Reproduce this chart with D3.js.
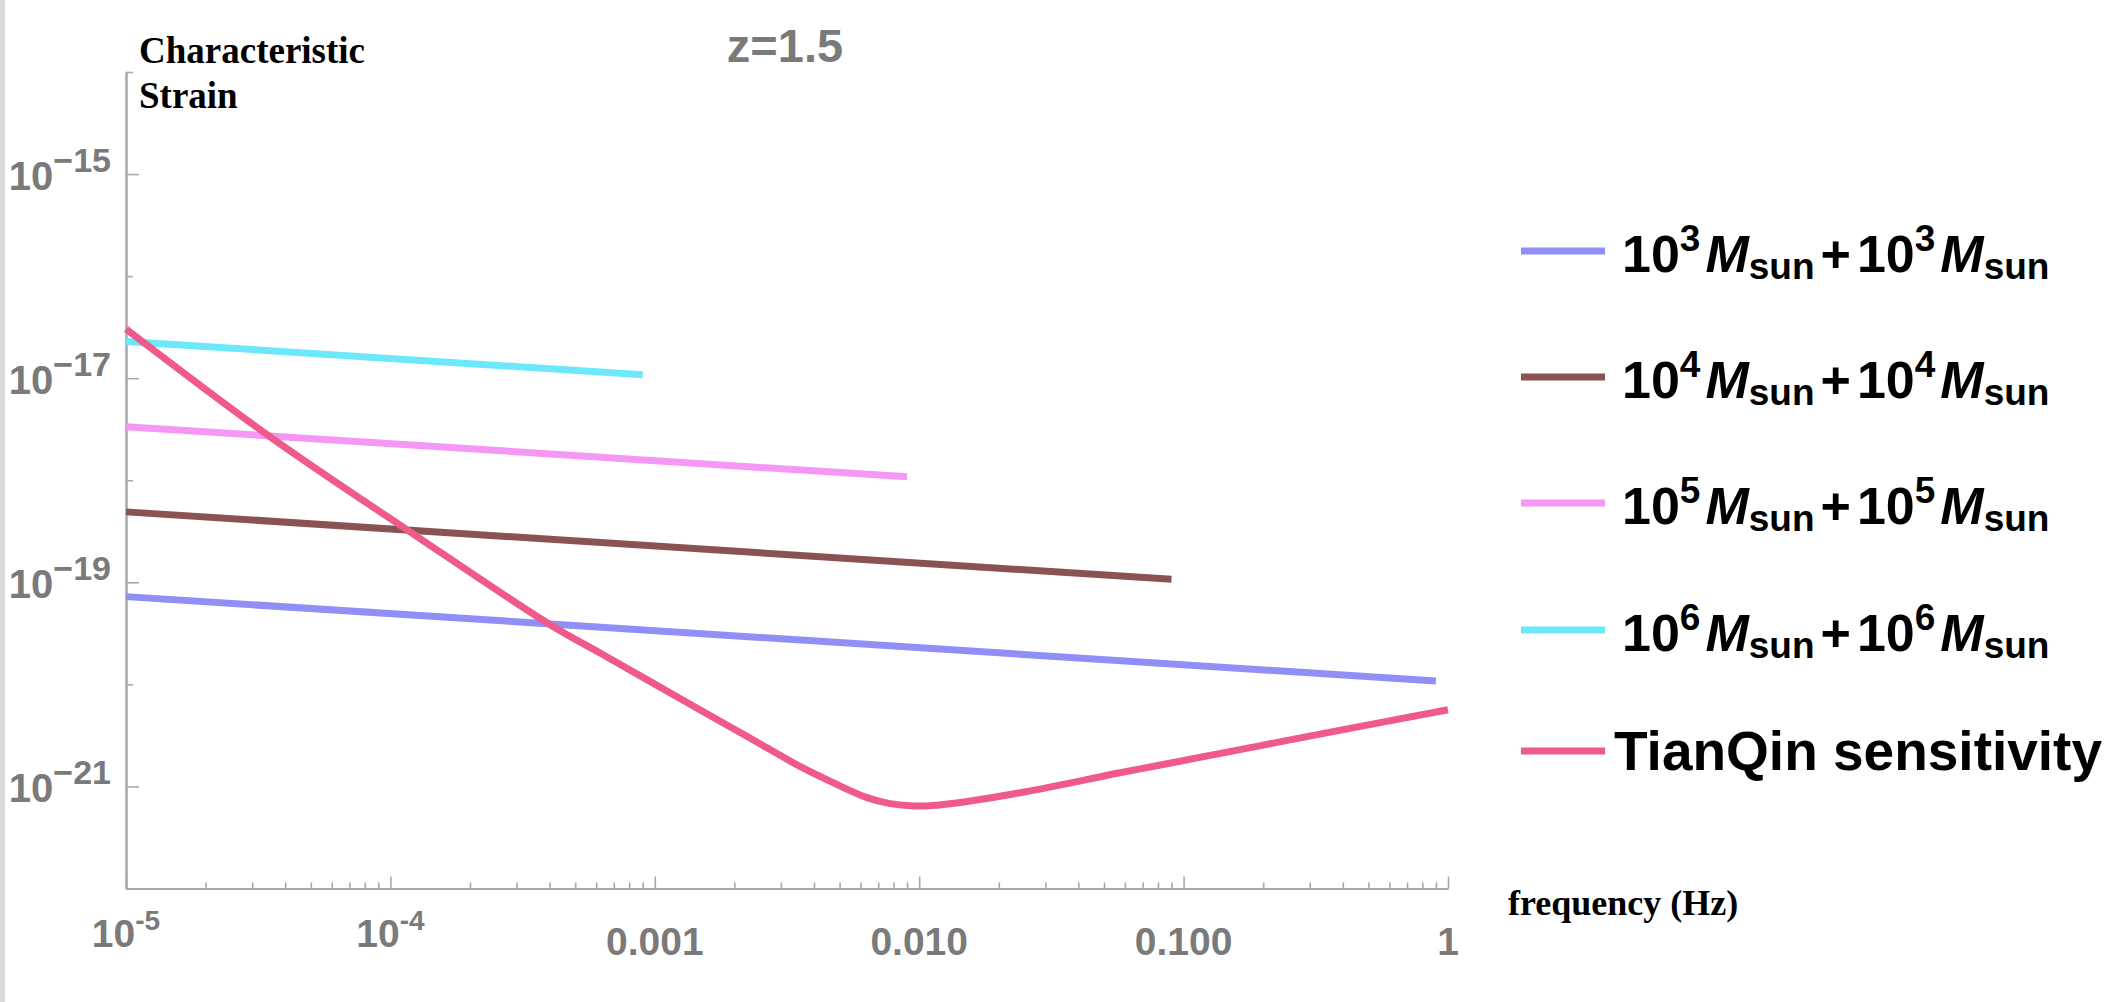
<!DOCTYPE html>
<html>
<head>
<meta charset="utf-8">
<script src="https://cdn.jsdelivr.net/npm/d3@7"></script>
<style>
  body { margin: 0; background: #fff; }
  svg { display: block; }
</style>
</head>
<body>
<div id="chart"></div>
<script>
// binary inspiral tracks: straight lines in log-log, start at 1e-5 Hz, stop near ISCO
const binaryNames = ["1e3", "1e4", "1e5", "1e6"];
const binaryExponents = ["3", "4", "5", "6"];
const binaryColors = ["#8f8ff7", "#8a5353", "#f597f5", "#6de8fb"];
const binaryStartFreq = [1e-5, 1e-5, 1e-5, 1e-5];
const binaryEndFreq = [0.9, 0.09, 0.009, 0.0009];
const binaryStartStrain = [7.24e-20, 4.9e-19, 3.35e-18, 2.29e-17];
const binaryEndStrain = [1.08e-20, 1.07e-19, 1.08e-18, 1.08e-17];

// TianQin sensitivity curve
const tianqinFreq = [1e-5, 3.51e-5, 1.156e-4, 4.02e-4, 6.21e-4, 9.59e-4, 1.48e-3, 2.29e-3,
  3.54e-3, 4.72e-3, 6.35e-3, 7.76e-3, 9.23e-3, 1.127e-2, 1.52e-2, 2.69e-2, 5.74e-2, 8.65e-2, 0.367, 1];
const tianqinStrain = [3.04e-17, 2.66e-18, 3.27e-19, 3.84e-20, 2.03e-20, 1.07e-20, 5.64e-21, 2.98e-21,
  1.57e-21, 1.09e-21, 7.76e-22, 6.78e-22, 6.47e-22, 6.52e-22, 7.13e-22, 9.14e-22, 1.36e-21, 1.67e-21, 3.44e-21, 5.64e-21];
const tianqinColor = "#ef5a8b";

const xMajorTicks = [1e-5, 1e-4, 1e-3, 1e-2, 1e-1, 1];
const xTickLabels = [["10", "-5"], ["10", "-4"], ["0.001"], ["0.010"], ["0.100"], ["1"]];
const yMajorTicks = [1e-21, 1e-19, 1e-17, 1e-15];
const yMajorLabels = ["\u221221", "\u221219", "\u221217", "\u221215"];
const yMinorTicks = [1e-22, 1e-20, 1e-18, 1e-16, 1e-14];

const width = 2112, height = 1002;
const gray = "#7a7a7a", axisGray = "#a8a8a8";
const sans = "Liberation Sans, Arial, sans-serif";
const serif = "Liberation Serif, Times New Roman, serif";

const svg = d3.select("#chart").append("svg")
  .attr("width", width).attr("height", height);

svg.append("rect").attr("width", width).attr("height", height).attr("fill", "#fff");
svg.append("rect").attr("width", 5).attr("height", height).attr("fill", "#dcdcdc");

const x = d3.scaleLog().domain([1e-5, 1]).range([126, 1448]);
const y = d3.scaleLog().domain([1e-22, 1e-14]).range([888.5, 72]);

// minor x ticks 2..9 per decade
const xMinorTicks = [];
for (let e = -5; e < 0; e++) {
  for (let k = 2; k <= 9; k++) xMinorTicks.push(k * Math.pow(10, e));
}

function styleAxis(g) {
  g.selectAll("path").attr("stroke", axisGray).attr("stroke-width", 2);
  g.selectAll("line").attr("stroke", axisGray).attr("stroke-width", 1.6);
  g.selectAll("text").remove();
}

svg.append("g")
  .attr("transform", `translate(0,${y.range()[0]})`)
  .call(d3.axisBottom(x).tickValues(xMinorTicks).tickSizeInner(-6).tickSizeOuter(0))
  .call(styleAxis);
svg.append("g")
  .attr("transform", `translate(0,${y.range()[0]})`)
  .call(d3.axisBottom(x).tickValues(xMajorTicks).tickSizeInner(-12).tickSizeOuter(0))
  .call(styleAxis);
svg.append("g")
  .attr("transform", `translate(${x.range()[0]},0)`)
  .call(d3.axisLeft(y).tickValues(yMinorTicks).tickSizeInner(-7).tickSizeOuter(0))
  .call(styleAxis);
svg.append("g")
  .attr("transform", `translate(${x.range()[0]},0)`)
  .call(d3.axisLeft(y).tickValues(yMajorTicks).tickSizeInner(-13).tickSizeOuter(0))
  .call(styleAxis);

// x tick labels
const xl = svg.append("g").attr("font-family", sans)
  .attr("font-weight", "bold").attr("fill", gray);
xMajorTicks.forEach((v, i) => {
  const lab = xTickLabels[i];
  const t = xl.append("text").attr("x", x(v)).attr("text-anchor", "middle");
  if (lab.length === 2) {
    t.attr("y", 947);
    t.append("tspan").attr("font-size", 39).text(lab[0]);
    t.append("tspan").attr("font-size", 28).attr("dy", -17).text(lab[1]);
  } else {
    t.attr("y", 955).attr("font-size", 39).text(lab[0]);
  }
});

// y tick labels
const yl = svg.append("g").attr("font-family", sans)
  .attr("font-weight", "bold").attr("fill", gray);
yMajorTicks.forEach((v, i) => {
  const t = yl.append("text").attr("x", 111).attr("y", y(v) + 16).attr("text-anchor", "end");
  t.append("tspan").attr("font-size", 40).text("10");
  t.append("tspan").attr("font-size", 34).attr("dy", -18).text(yMajorLabels[i]);
});

// series
const line = d3.line().x(d => x(d[0])).y(d => y(d[1]));
binaryNames.forEach((name, i) => {
  svg.append("path")
    .datum([[binaryStartFreq[i], binaryStartStrain[i]], [binaryEndFreq[i], binaryEndStrain[i]]])
    .attr("d", line)
    .attr("fill", "none")
    .attr("stroke", binaryColors[i])
    .attr("stroke-width", 7);
});
svg.append("path")
  .datum(tianqinFreq.map((f, i) => [f, tianqinStrain[i]]))
  .attr("d", line.curve(d3.curveCatmullRom.alpha(0.5)))
  .attr("fill", "none")
  .attr("stroke", tianqinColor)
  .attr("stroke-width", 7);

// axis titles
svg.append("text").attr("x", 139).attr("y", 63).attr("font-family", serif)
  .attr("font-weight", "bold").attr("font-size", 37).attr("fill", "#000").text("Characteristic");
svg.append("text").attr("x", 139).attr("y", 108).attr("font-family", serif)
  .attr("font-weight", "bold").attr("font-size", 37).attr("fill", "#000").text("Strain");
svg.append("text").attr("x", 1508).attr("y", 915).attr("font-family", serif)
  .attr("font-weight", "bold").attr("font-size", 36).attr("fill", "#000").text("frequency (Hz)");

// plot title
svg.append("text").attr("x", 785).attr("y", 62).attr("text-anchor", "middle")
  .attr("font-family", sans).attr("font-weight", "bold")
  .attr("font-size", 47).attr("fill", gray).text("z=1.5");

// legend
const legendY = [251, 377, 503, 630, 751];
const lg = svg.append("g").attr("font-family", sans)
  .attr("font-weight", "bold").attr("fill", "#000");
const legendColors = binaryColors.concat([tianqinColor]);
legendColors.forEach((c, i) => {
  lg.append("line").attr("x1", 1521).attr("x2", 1605)
    .attr("y1", legendY[i]).attr("y2", legendY[i])
    .attr("stroke", c).attr("stroke-width", 7);
});
binaryExponents.forEach((ex, i) => {
  const t = lg.append("text").attr("x", 1622).attr("y", legendY[i] + 21);
  for (let k = 0; k < 2; k++) {
    if (k === 1) t.append("tspan").attr("font-size", 52).attr("dx", 6).attr("dy", -7).text("+");
    t.append("tspan").attr("font-size", 52).attr("dx", k === 1 ? 6 : 0).text("10");
    t.append("tspan").attr("font-size", 37).attr("dy", -21).text(ex);
    t.append("tspan").attr("font-size", 52).attr("font-style", "italic").attr("dx", 5).attr("dy", 21).text("M");
    t.append("tspan").attr("font-size", 37).attr("dy", 7).text("sun");
  }
});
lg.append("text").attr("x", 1614).attr("y", legendY[4] + 19).attr("font-size", 55)
  .text("TianQin sensitivity");
</script>
</body>
</html>
